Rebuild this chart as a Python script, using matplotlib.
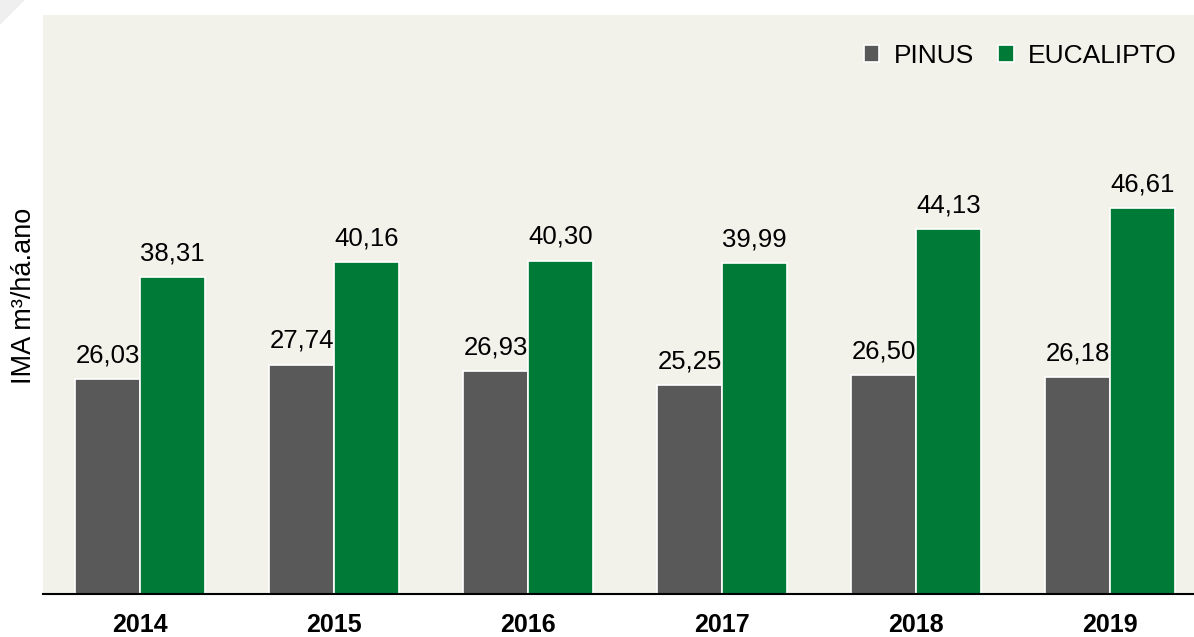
import numpy as np
import matplotlib.pyplot as plt
from matplotlib.patches import Polygon

years = ['2014', '2015', '2016', '2017', '2018', '2019']
pinus = [26.03, 27.74, 26.93, 25.25, 26.50, 26.18]
eucalipto = [38.31, 40.16, 40.30, 39.99, 44.13, 46.61]

plt.rcParams['font.family'] = ['Liberation Sans', 'DejaVu Sans']

bg = '#F2F1EA'
gray = '#595959'
green = '#007A37'

fig = plt.figure(figsize=(11.94, 6.37), dpi=100)
ax = fig.add_axes([43 / 1194, 43 / 637, 1 - 43 / 1194, (594 - 15) / 637])
ax.set_facecolor(bg)

# little grey notch in the corner
fig.patches.append(Polygon([[0, 1], [25 / 1194, 1], [0, 1 - 25 / 637]], closed=True,
                           transform=fig.transFigure, facecolor='#EFEFEF', edgecolor='none'))

x = np.arange(len(years))
w = 0.335
b1 = ax.bar(x - w / 2, pinus, w, color=gray, edgecolor='white', linewidth=1.2, label='PINUS')
b2 = ax.bar(x + w / 2, eucalipto, w, color=green, edgecolor='white', linewidth=1.2, label='EUCALIPTO')

for bars, vals in ((b1, pinus), (b2, eucalipto)):
    for r, v in zip(bars, vals):
        ax.annotate(f'{v:.2f}'.replace('.', ','), xy=(r.get_x() + r.get_width() / 2, v),
                    xytext=(0, 12), textcoords='offset points', ha='center', va='baseline',
                    fontsize=18.5, color='black')

ax.set_xlim(-0.5, 5.5 - 13 / 194)
ax.set_ylim(0, 70)
ax.set_xticks(x)
ax.set_xticklabels(years, fontsize=18, fontweight='bold')
ax.tick_params(axis='x', length=0, pad=14)
ax.set_yticks([])
for s in ['top', 'right', 'left']:
    ax.spines[s].set_visible(False)
ax.spines['bottom'].set_linewidth(1.5)
ax.spines['bottom'].set_color('black')

fig.text(24 / 1194, 1 - 296 / 637, 'IMA m³/há.ano', rotation=90, ha='center', va='center', fontsize=19.5)

ax.legend(loc='center right', bbox_to_anchor=(1177 / 1194, 1 - 56 / 637), bbox_transform=fig.transFigure,
          frameon=False, fontsize=19, borderaxespad=0, borderpad=0,
          handlelength=0.6, handleheight=0.6, handletextpad=0.55, columnspacing=0.9, ncol=2)

fig.savefig('out.png', dpi=100, facecolor='white')
